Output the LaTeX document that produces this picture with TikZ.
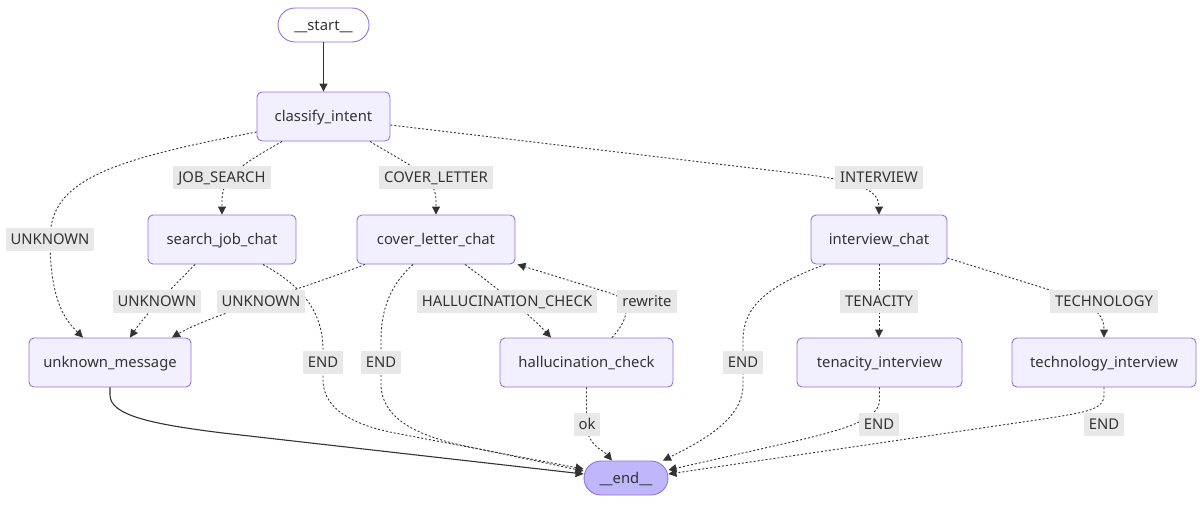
\documentclass[tikz,border=0pt]{standalone}
\usepackage{fontspec}
\setmainfont{Noto Sans}
\usetikzlibrary{arrows.meta}
\definecolor{nodefill}{HTML}{F2F0FF}
\definecolor{nodedraw}{HTML}{9370DB}
\definecolor{endfill}{HTML}{BFB6FC}
\definecolor{lblfill}{HTML}{E8E8E8}
\definecolor{ink}{HTML}{333333}
\tikzset{
  txt/.style={text=ink, font=\fontsize{14.8}{18}\selectfont, text height=12.6pt, text depth=2pt},
  box/.style={txt, draw=nodedraw, fill=nodefill, line width=0.9pt, rounded corners=5pt,
    minimum height=49pt, inner sep=0pt},
  pill/.style={txt, draw=nodedraw, line width=0.9pt, rounded corners=17pt,
    minimum height=34pt, inner sep=0pt},
  lbl/.style={txt, fill=lblfill, minimum height=23pt, inner xsep=5pt, inner ysep=0pt},
  tip/.style={-{Triangle[length=8pt,width=8pt]}},
  dotedge/.style={tip, draw=ink, line width=0.9pt, dash pattern=on 2pt off 2pt},
  solidedge/.style={tip, draw=ink, line width=1.1pt},
}
\begin{document}
\begin{tikzpicture}[x=1pt,y=-1pt]
\useasboundingbox (0,0) rectangle (1204,504);
% nodes
\node[pill, fill=white, minimum width=91pt] (start) at (323.5,25) {\_\_start\_\_};
\node[box, minimum width=133pt] (classify) at (323.5,116.5) {classify\_intent};
\node[box, minimum width=148pt] (sjc) at (222,239.5) {search\_job\_chat};
\node[box, minimum width=158pt] (clc) at (436,239.5) {cover\_letter\_chat};
\node[box, minimum width=136pt] (ivc) at (879,239.5) {interview\_chat};
\node[box, minimum width=162pt] (unk) at (110,362.5) {unknown\_message};
\node[box, minimum width=173pt] (hal) at (586.5,362.5) {hallucination\_check};
\node[box, minimum width=165pt] (ten) at (879.5,362.5) {tenacity\_interview};
\node[box, minimum width=184pt] (tech) at (1104,362.5) {technology\_interview};
\node[pill, fill=endfill, minimum width=84pt] (end) at (626,478) {\_\_end\_\_};
% edges
\draw[solidedge] (start.south) -- (classify.north);
\draw[dotedge] ([yshift=-15.5pt]classify.west) .. controls (110,160) and (50,180) .. (50,239)
  .. controls (50,300) and (65,320) .. ([xshift=-27pt]unk.north);
\draw[dotedge] ([xshift=-41.5pt]classify.south) .. controls (245,163) and (222,175) .. (222,200) -- (sjc.north);
\draw[dotedge] ([xshift=46.5pt]classify.south) .. controls (405,163) and (436,175) .. (436,200) -- (clc.north);
\draw[dotedge] ([yshift=-8.5pt]classify.east) -- (810,175) .. controls (870,183) and (879,195) .. (ivc.north);
\draw[dotedge] ([xshift=-27pt]sjc.south) .. controls (170,290) and (145,315) .. ([xshift=20pt]unk.north);
\draw[dotedge] ([xshift=-71pt]clc.south) .. controls (300,290) and (210,315) .. ([xshift=62pt]unk.north);
\draw[dotedge] ([xshift=41pt]sjc.south) .. controls (300,285) and (323,310) .. (323,350) -- (323,380)
  .. controls (323,412) and (360,427) .. (400,434) -- ([yshift=9pt]end.west);
\draw[dotedge] ([xshift=-23pt]clc.south) .. controls (390,285) and (381,310) .. (381,340) -- (381,385)
  .. controls (382,420) and (420,437) .. (470,447) -- ([yshift=7pt]end.west);
\draw[dotedge] ([xshift=29pt]clc.south) .. controls (500,290) and (530,315) .. ([xshift=-35.5pt]hal.north);
\draw[dotedge] ([xshift=25.5pt]hal.north) .. controls (630,318) and (632,300) .. (610,293) -- ([xshift=2pt]clc.south east);
\draw[dotedge] (hal.south) -- (586.5,425) .. controls (587,445) and (603,450) .. ([xshift=-14pt]end.north);
\draw[dotedge] ([xshift=-54pt]ivc.south) .. controls (770,285) and (743,305) .. (743,340) -- (743,385)
  .. controls (743,420) and (700,442) .. ([xshift=37pt]end.north);
\draw[dotedge] (ivc.south) -- (ivc.south |- ten.north);
\draw[dotedge] ([yshift=-18.5pt]ivc.east) -- (1050,290) .. controls (1090,302) and (1104,312) .. (tech.north);
\draw[dotedge] (ten.south) -- (879.5,400) .. controls (879.5,418) and (850,428) .. (800,440) -- ([yshift=8pt]end.east);
\draw[dotedge] (tech.south) -- (1104,395) .. controls (1104,410) and (1085,412) .. (1050,418)
  .. controls (900,440) and (750,462) .. ([yshift=4pt]end.east);
\draw[solidedge] (unk.south) -- (110,395) .. controls (110,415) and (150,424) .. (223,433) -- ([yshift=4pt]end.west);
% labels
\node[lbl] (lJS) at (222,177.5) {JOB\_SEARCH};
\node[lbl] (lCL) at (436,177.5) {COVER\_LETTER};
\node[lbl] (lIV) at (879,177.5) {INTERVIEW};
\node[lbl] (lU1) at (50,239.5) {UNKNOWN};
\node[lbl] (lU2) at (157,301) {UNKNOWN};
\node[lbl] (lU3) at (261,301) {UNKNOWN};
\node[lbl] (lHC) at (507,301) {HALLUCINATION\_CHECK};
\node[lbl] (lRW) at (647,301) {rewrite};
\node[lbl] (lE1) at (323,362) {END};
\node[lbl] (lE2) at (381,362) {END};
\node[lbl] (lE3) at (743,362) {END};
\node[lbl] (lTN) at (879,301) {TENACITY};
\node[lbl] (lTC) at (1104,301) {TECHNOLOGY};
\node[lbl] (lOK) at (587,424) {ok};
\node[lbl] (lE4) at (879,424) {END};
\node[lbl] (lE5) at (1104,424) {END};
\end{tikzpicture}
\end{document}
